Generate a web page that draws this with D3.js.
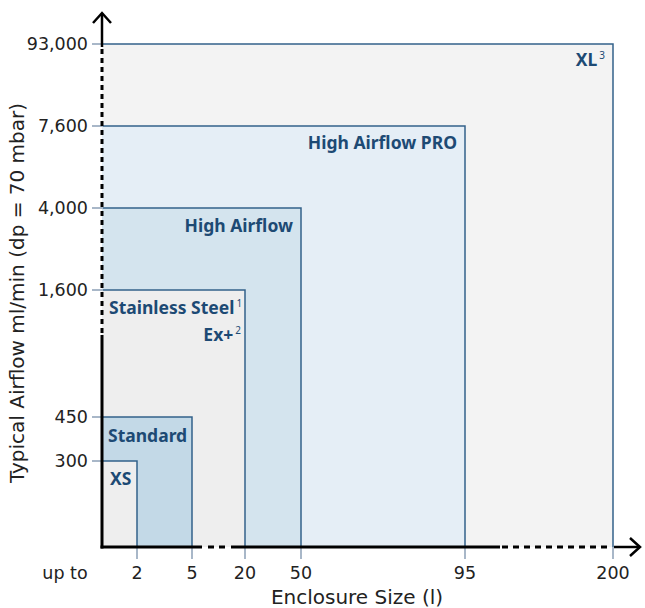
<!DOCTYPE html>
<html>
<head>
<meta charset="utf-8">
<script src="https://cdn.jsdelivr.net/npm/d3@7"></script>
<style>
  html, body { margin: 0; padding: 0; background: #fff; }
  svg { display: block; }
</style>
</head>
<body>
<svg id="chart" width="645" height="608"></svg>
<script>
// ---------- data ----------
const xTicks = [2, 5, 20, 50, 95, 200];
const xTickLabels = ["2", "5", "20", "50", "95", "200"];
const yTicks = [300, 450, 1600, 4000, 7600, 93000];
const yTickLabels = ["300", "450", "1,600", "4,000", "7,600", "93,000"];

const productNames = ["XL", "High Airflow PRO", "High Airflow", "Stainless Steel / Ex+", "Standard", "XS"];
const productSize = [200, 95, 50, 20, 5, 2];          // enclosure size (l)
const productAirflow = [93000, 7600, 4000, 1600, 450, 300]; // ml/min
const productFill = ["#f3f3f3", "#e5eef6", "#d4e4ee", "#eeeeee", "#c3d9e7", "#eeeeee"];

// ---------- layout ----------
const svg = d3.select("#chart");
const x0 = 102, y0 = 547;

// piecewise (schematic) scales
const x = d3.scaleLinear()
  .domain([0, 2, 5, 20, 50, 95, 200])
  .range([x0, 137, 192, 245, 301, 465, 613]);
const y = d3.scaleLinear()
  .domain([0, 300, 450, 1600, 4000, 7600, 93000])
  .range([y0, 461, 417, 290, 208, 126, 44]);

const stroke = "#33618a";
const tickCol = "#a8b7c8";
const labelCol = "#1d4a74";
const font = "'DejaVu Sans', sans-serif";
const boldFont = "'Noto Sans', 'DejaVu Sans', sans-serif";

// rectangles (largest first)
const g = svg.append("g");
productNames.forEach((n, i) => {
  const xr = x(productSize[i]), yt = y(productAirflow[i]);
  g.append("rect")
    .attr("x", x0).attr("y", yt)
    .attr("width", xr - x0).attr("height", y0 - yt)
    .attr("fill", productFill[i]);
  g.append("path")
    .attr("d", `M${x0},${yt}H${xr}V${y0}`)
    .attr("fill", "none").attr("stroke", stroke).attr("stroke-width", 1.5);
});

// tick marks
yTicks.forEach((v) => {
  svg.append("line").attr("x1", 92).attr("x2", x0 + 1)
    .attr("y1", y(v)).attr("y2", y(v))
    .attr("stroke", tickCol).attr("stroke-width", 2);
});
xTicks.forEach((v) => {
  svg.append("line").attr("x1", x(v)).attr("x2", x(v))
    .attr("y1", y0).attr("y2", 559)
    .attr("stroke", tickCol).attr("stroke-width", 2);
});

// tick labels
svg.append("g").selectAll("text").data(yTicks).join("text")
  .attr("x", 88).attr("y", d => y(d)).attr("dy", "0.36em")
  .attr("text-anchor", "end")
  .attr("font-family", font).attr("font-size", 17.5).attr("fill", "#222")
  .text((d, i) => yTickLabels[i]);
svg.append("g").selectAll("text").data(xTicks).join("text")
  .attr("x", d => x(d)).attr("y", 579)
  .attr("text-anchor", "middle")
  .attr("font-family", font).attr("font-size", 17.5).attr("fill", "#222")
  .text((d, i) => xTickLabels[i]);
svg.append("text").attr("x", 65).attr("y", 579).attr("text-anchor", "middle")
  .attr("font-family", font).attr("font-size", 17.5).attr("fill", "#222").text("up to");

// axes
const ax = svg.append("g").attr("stroke", "#000").attr("fill", "none");
// y axis
ax.append("line").attr("x1", x0).attr("x2", x0).attr("y1", y0 + 1.5).attr("y2", 335).attr("stroke-width", 3);
ax.append("line").attr("x1", x0).attr("x2", x0).attr("y1", 333).attr("y2", 47).attr("stroke-width", 3).attr("stroke-dasharray", "5,4");
ax.append("line").attr("x1", x0).attr("x2", x0).attr("y1", 47).attr("y2", 13).attr("stroke-width", 2.5);
ax.append("path").attr("d", `M93,23L${x0},13L111,23`).attr("stroke-width", 2.5);
// x axis
ax.append("line").attr("x1", x0 - 1.5).attr("x2", 202).attr("y1", y0).attr("y2", y0).attr("stroke-width", 3);
ax.append("line").attr("x1", 208).attr("x2", 226).attr("y1", y0).attr("y2", y0).attr("stroke-width", 3).attr("stroke-dasharray", "6,5");
ax.append("line").attr("x1", 231).attr("x2", 500).attr("y1", y0).attr("y2", y0).attr("stroke-width", 3);
ax.append("line").attr("x1", 502).attr("x2", 612).attr("y1", y0).attr("y2", y0).attr("stroke-width", 3).attr("stroke-dasharray", "6,5");
ax.append("line").attr("x1", 614).attr("x2", 640).attr("y1", y0).attr("y2", y0).attr("stroke-width", 2.5);
ax.append("path").attr("d", `M630,538L640,${y0}L630,556`).attr("stroke-width", 2.5);

// product labels
function label(txt, sup, xPos, yPos, anchor) {
  const t = svg.append("text").attr("x", xPos).attr("y", yPos)
    .attr("text-anchor", anchor)
    .attr("font-family", boldFont).attr("font-weight", "bold")
    .attr("font-size", 17.5).attr("fill", labelCol);
  t.append("tspan").text(txt);
  if (sup) t.append("tspan").attr("font-size", 10).attr("font-weight", "normal").attr("dx", 2).attr("dy", -7).text(sup);
}
label("XL", "3", x(200) - 8, y(93000) + 22, "end");
label("High Airflow PRO", null, x(95) - 8, y(7600) + 23, "end");
label("High Airflow", null, x(50) - 8, y(4000) + 24, "end");
label("Stainless Steel", "1", x0 + 7, y(1600) + 24, "start");
label("Ex+", "2", x(20) - 4, y(1600) + 51, "end");
label("Standard", null, x0 + 6, y(450) + 25, "start");
label("XS", null, x0 + 8, y(300) + 24, "start");

// axis titles
svg.append("text").attr("x", 357).attr("y", 604).attr("text-anchor", "middle")
  .attr("font-family", font).attr("font-size", 20).attr("fill", "#222").text("Enclosure Size (l)");
svg.append("text").attr("transform", "translate(24,293) rotate(-90)").attr("text-anchor", "middle")
  .attr("font-family", font).attr("font-size", 20).attr("fill", "#222").text("Typical Airflow ml/min (dp = 70 mbar)");
</script>
</body>
</html>
